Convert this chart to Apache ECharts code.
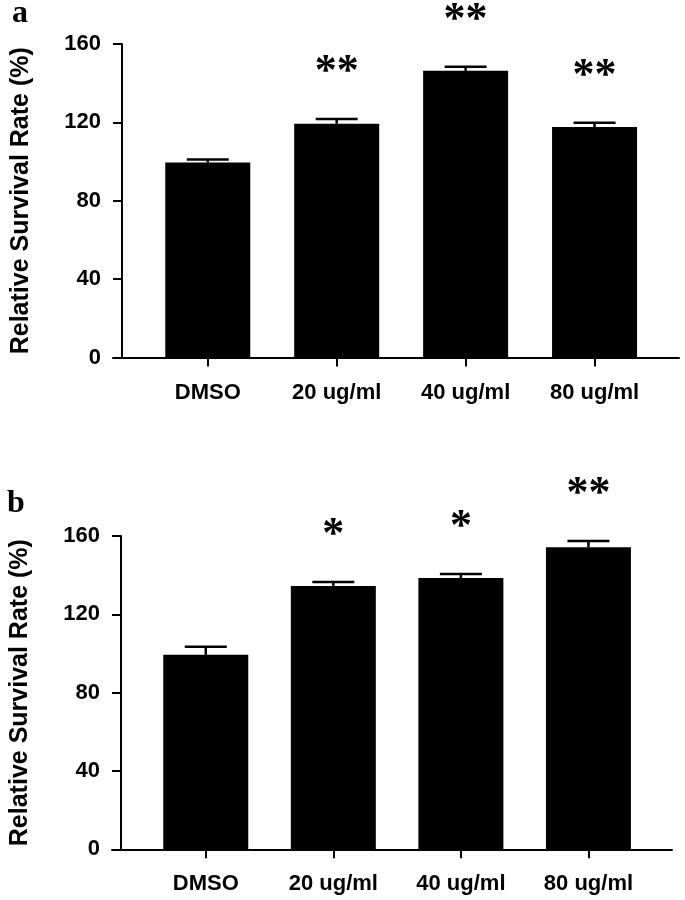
<!DOCTYPE html>
<html><head><meta charset="utf-8">
<script src="https://cdn.jsdelivr.net/npm/echarts@6/dist/echarts.min.js"></script>
<style>html,body{margin:0;padding:0;background:#fff}#c{width:685px;height:900px}</style>
</head><body><div id="c"></div>
<script>
// ---- data ----
const categories = ['DMSO', '20 ug/ml', '40 ug/ml', '80 ug/ml'];
const yTickValues = [0, 40, 80, 120, 160];
const meanA = [99.5, 119.3, 146.3, 117.6];
const errA = [1.6, 2.4, 2.1, 2.2];
const sigA = ['', '**', '**', '**'];
const meanB = [99.3, 134.5, 138.5, 154.2];
const errB = [4.1, 2.0, 2.1, 3.2];
const sigB = ['', '*', '*', '**'];
const panelLabels = ['a', 'b'];
const yTitle = 'Relative Survival Rate (%)';

// ---- chart ----
const sans = '"Liberation Sans", Arial, sans-serif';
const serif = '"Liberation Serif", "Times New Roman", serif';
const idx = categories.map((c, i) => i);

function xAxisCfg(g) {
  return {
    type: 'value', gridIndex: g, min: -0.735, max: 3.655,
    axisLine: { show: true, onZero: false, lineStyle: { color: '#000', width: 2 } },
    splitLine: { show: false },
    axisTick: { show: true, customValues: idx, length: 9, lineStyle: { color: '#000', width: 2 } },
    axisLabel: { customValues: idx, formatter: v => categories[Math.round(v)], color: '#000',
      fontFamily: sans, fontWeight: 'bold', fontSize: 22, margin: 24 }
  };
}
function yAxisCfg(g) {
  return {
    type: 'value', gridIndex: g, min: yTickValues[0], max: yTickValues[yTickValues.length - 1],
    interval: yTickValues[1] - yTickValues[0], offset: -9,
    axisLine: { show: true, onZero: false, lineStyle: { color: '#000', width: 2 } },
    axisTick: { show: true, length: 9, lineStyle: { color: '#000', width: 2 } },
    splitLine: { show: false },
    axisLabel: { color: '#000', fontFamily: sans, fontWeight: 'bold', fontSize: 22, margin: 21 },
    name: yTitle, nameLocation: 'middle', nameGap: 88,
    nameTextStyle: { color: '#000', fontFamily: sans, fontWeight: 'bold', fontSize: 25 }
  };
}
function barSeries(g, mean) {
  return { type: 'bar', xAxisIndex: g, yAxisIndex: g, silent: true, barWidth: 85,
    itemStyle: { color: '#000' }, data: mean.map((v, i) => [i, v]) };
}
function errSeries(g, mean, err, sig) {
  return {
    type: 'custom', xAxisIndex: g, yAxisIndex: g, silent: true, clip: false, z: 5,
    data: mean.map((v, i) => [i, v, err[i]]),
    renderItem: (params, api) => {
      const x = api.value(0), m = api.value(1), e = api.value(2);
      const top = api.coord([x, m + e]);
      const base = api.coord([x, m]);
      return { type: 'group', children: [
        { type: 'line', shape: { x1: top[0], y1: base[1], x2: top[0], y2: top[1] }, style: { stroke: '#000', lineWidth: 2.5 } },
        { type: 'line', shape: { x1: top[0] - 21, y1: top[1], x2: top[0] + 21, y2: top[1] }, style: { stroke: '#000', lineWidth: 2.5 } },
        { type: 'text', style: { text: sig[params.dataIndex], x: top[0], y: top[1] - 46, align: 'center', verticalAlign: 'middle',
          font: 'bold 44px ' + serif, fill: '#000' } }
      ] };
    }
  };
}

const chart = echarts.init(document.getElementById('c'), null, { renderer: 'canvas' });
chart.setOption({
  backgroundColor: '#fff',
  animation: false,
  title: [
    { text: panelLabels[0], left: 12, top: -2, padding: 0, textStyle: { fontFamily: serif, fontWeight: 'bold', fontSize: 32, color: '#000' } },
    { text: panelLabels[1], left: 7, top: 488, padding: 0, textStyle: { fontFamily: serif, fontWeight: 'bold', fontSize: 32, color: '#000' } }
  ],
  grid: [
    { left: 113, right: 6, top: 44, bottom: 542.5 },
    { left: 104, right: 13, top: 536, bottom: 50.7 }
  ],
  xAxis: [xAxisCfg(0), xAxisCfg(1)],
  yAxis: [yAxisCfg(0), yAxisCfg(1)],
  series: [
    barSeries(0, meanA), errSeries(0, meanA, errA, sigA),
    barSeries(1, meanB), errSeries(1, meanB, errB, sigB)
  ]
});
</script></body></html>
